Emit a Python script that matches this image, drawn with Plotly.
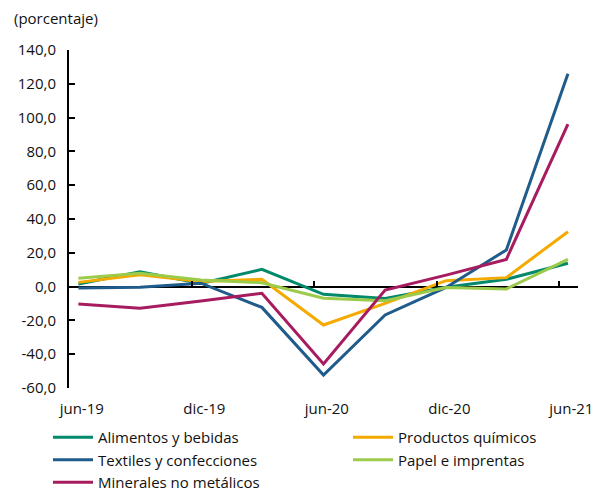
import plotly.graph_objects as go

# Quarterly data (mid-month dates), values in %
fechas = ["2019-06-15", "2019-09-15", "2019-12-15", "2020-03-15", "2020-06-15",
          "2020-09-15", "2020-12-15", "2021-03-15", "2021-06-15"]

alimentos = [1.5, 8.8, 1.8, 10.2, -4.6, -7.0, -0.4, 4.3, 13.8]
quimicos = [2.5, 7.0, 3.0, 4.3, -22.7, -9.9, 3.5, 5.3, 32.5]
textiles = [-0.8, -0.4, 2.0, -12.3, -52.3, -16.8, -0.5, 21.7, 126.0]
papel = [4.9, 7.9, 3.9, 2.3, -6.9, -8.3, -0.5, -1.4, 16.1]
minerales = [-10.3, -12.8, -8.5, -4.0, -45.8, -2.0, 6.8, 16.1, 96.2]

x_tick_dates = ["2019-06-01", "2019-12-01", "2020-06-01", "2020-12-01", "2021-06-01"]
x_label_dates = ["2019-06-20", "2019-12-20", "2020-06-20", "2020-12-20", "2021-06-20"]
x_labels = ["jun-19", "dic-19", "jun-20", "dic-20", "jun-21"]

y_vals = [-60, -40, -20, 0, 20, 40, 60, 80, 100, 120, 140]
y_labels = ["-60,0", "-40,0", "-20,0", "0,0", "20,0", "40,0", "60,0", "80,0",
            "100,0", "120,0", "140,0"]

# (name, values, colour, legend column)
series = [
    ("Alimentos y bebidas", alimentos, "#00896A", "legend"),
    ("Productos químicos", quimicos, "#F4AA00", "legend2"),
    ("Textiles y confecciones", textiles, "#1F5B8B", "legend"),
    ("Papel e imprentas", papel, "#9CCB4B", "legend2"),
    ("Minerales no metálicos", minerales, "#A71C5E", "legend"),
]

FONT = "Open Sans"
TXT = "#111111"
fig = go.Figure()
for name, vals, color, leg in series:
    fig.add_trace(go.Scatter(x=fechas, y=vals, name=name, mode="lines",
                             line=dict(color=color, width=3), legend=leg))
# empty helper trace so the tick-only axis on the zero line gets drawn
fig.add_trace(go.Scatter(x=[], y=[], xaxis="x2", yaxis="y", showlegend=False,
                         hoverinfo="skip"))

legend_common = dict(orientation="v", xref="container", yref="container",
                     xanchor="left", yanchor="top", tracegroupgap=0, itemwidth=40,
                     font=dict(family=FONT, size=15, color=TXT),
                     bgcolor="rgba(0,0,0,0)")

xr = ["2019-06-01", "2021-06-30"]
fig.update_layout(
    width=599, height=491,
    margin=dict(l=69, r=21, t=50, b=103, autoexpand=False),
    paper_bgcolor="white", plot_bgcolor="white",
    font=dict(family=FONT, size=15, color=TXT),
    showlegend=True,
    legend=dict(x=48 / 599, y=1 - 421 / 491, **legend_common),
    legend2=dict(x=348 / 599, y=1 - 421 / 491, **legend_common),
    xaxis=dict(type="date", range=xr, showgrid=False, zeroline=False,
               showline=False, ticks="", tickvals=x_label_dates, ticktext=x_labels,
               ticklabelstandoff=10, automargin=False,
               tickfont=dict(family=FONT, size=15, color=TXT)),
    xaxis2=dict(type="date", range=xr, overlaying="x", anchor="free", position=0.3,
                side="bottom", showgrid=False, zeroline=False, showline=False,
                ticks="inside", ticklen=6, tickwidth=2, tickcolor="black",
                tickvals=x_tick_dates, showticklabels=False, automargin=False),
    yaxis=dict(range=[-60, 140], tickvals=y_vals, ticktext=y_labels,
               showgrid=False, zeroline=True, zerolinecolor="black", zerolinewidth=2,
               showline=True, linecolor="black",
               linewidth=2, ticks="inside", ticklen=6, tickwidth=2, tickcolor="black",
               ticklabelstandoff=8, automargin=False,
               tickfont=dict(family=FONT, size=15, color=TXT)),
    annotations=[dict(text="(porcentaje)", xref="paper", yref="paper",
                      x=(12 - 69) / 509, y=(388 - 18) / 338, xanchor="left",
                      yanchor="middle", showarrow=False,
                      font=dict(family=FONT, size=15, color=TXT))],
)
fig.write_html("out.html", config={"displayModeBar": False},
               post_script="document.body.style.margin='0px';")
